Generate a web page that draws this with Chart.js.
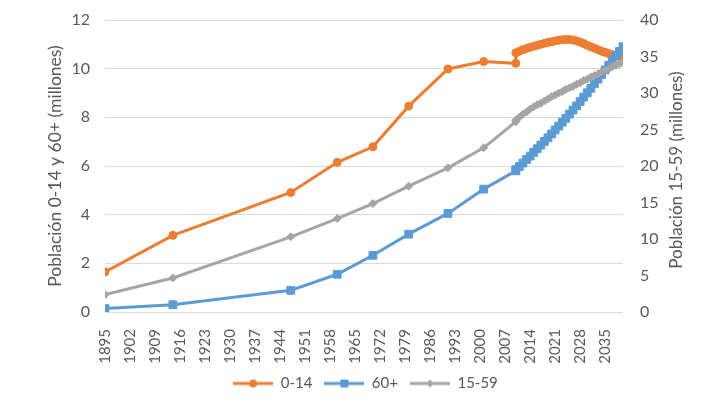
<!DOCTYPE html>
<html>
<head>
<meta charset="utf-8">
<script src="https://cdn.jsdelivr.net/npm/chart.js@4.4.1/dist/chart.umd.min.js"></script>
<style>
  html, body { margin: 0; padding: 0; background: #fff; }
</style>
</head>
<body>
<canvas id="myChart" width="728" height="405"></canvas>
<script>
// census years, then yearly projections 2010-2040
const censusYears = [1895, 1914, 1947, 1960, 1970, 1980, 1991, 2001, 2010];
const projYears = [2010, 2011, 2012, 2013, 2014, 2015, 2016, 2017, 2018, 2019, 2020,
  2021, 2022, 2023, 2024, 2025, 2026, 2027, 2028, 2029, 2030,
  2031, 2032, 2033, 2034, 2035, 2036, 2037, 2038, 2039, 2040];

// 0-14 (millones, eje izquierdo)
const kidsCensus = [1.65, 3.15, 4.91, 6.15, 6.79, 8.46, 9.99, 10.29, 10.22];
const kidsProj = [10.65, 10.72, 10.78, 10.83, 10.88, 10.92, 10.96, 11.00, 11.04, 11.08, 11.11,
  11.14, 11.17, 11.19, 11.20, 11.20, 11.18, 11.14, 11.09, 11.03, 10.96,
  10.90, 10.84, 10.78, 10.72, 10.67, 10.62, 10.58, 10.55, 10.53, 10.52];

// 60+ (millones, eje izquierdo)
const eldersCensus = [0.14, 0.30, 0.89, 1.55, 2.33, 3.20, 4.05, 5.05, 5.80];
const eldersProj = [5.85, 5.98, 6.12, 6.27, 6.41, 6.56, 6.71, 6.86, 7.01, 7.16, 7.32,
  7.48, 7.64, 7.80, 7.96, 8.13, 8.30, 8.47, 8.65, 8.83, 9.01,
  9.19, 9.38, 9.57, 9.76, 9.95, 10.14, 10.33, 10.52, 10.71, 10.90];

// 15-59 (millones, eje derecho)
const adultsCensus = [2.38, 4.66, 10.3, 12.8, 14.86, 17.23, 19.75, 22.49, 26.06];
const adultsProj = [26.3, 26.7, 27.1, 27.4, 27.8, 28.1, 28.4, 28.6, 28.9, 29.2, 29.5,
  29.7, 30.0, 30.2, 30.5, 30.7, 30.9, 31.2, 31.4, 31.7, 31.9,
  32.2, 32.4, 32.6, 32.9, 33.1, 33.3, 33.6, 33.8, 34.0, 34.2];

const tickYears = [1895, 1902, 1909, 1916, 1923, 1930, 1937, 1944, 1951, 1958, 1965,
  1972, 1979, 1986, 1993, 2000, 2007, 2014, 2021, 2028, 2035];

const ORANGE = '#ED7D31', BLUE = '#5B9BD5', GRAY = '#A5A5A5', TXT = '#595959';
const FONT = 'Lato, "Open Sans", sans-serif';

function series(cens, proj) {
  return censusYears.map((x, i) => ({x: x, y: cens[i]}))
    .concat(projYears.map((x, i) => ({x: x, y: proj[i]})));
}

// small line + marker icon for the legend
function legendIcon(color, shape) {
  const c = document.createElement('canvas');
  c.width = 40; c.height = 12;
  const g = c.getContext('2d');
  g.strokeStyle = color; g.lineWidth = 3;
  g.beginPath(); g.moveTo(0, 6); g.lineTo(40, 6); g.stroke();
  g.fillStyle = color;
  g.beginPath();
  if (shape === 'circle') g.arc(20, 6, 4, 0, Math.PI * 2);
  else if (shape === 'rect') g.rect(16, 2, 8, 8);
  else { g.moveTo(20, 2); g.lineTo(24, 6); g.lineTo(20, 10); g.lineTo(16, 6); g.closePath(); }
  g.fill();
  return c;
}
const icons = [legendIcon(ORANGE, 'circle'), legendIcon(BLUE, 'rect'), legendIcon(GRAY, 'diamond')];

// right axis title, reading bottom to top like the left one
const rightTitle = {
  id: 'rightTitle',
  afterDraw(chart) {
    const ctx = chart.ctx, a = chart.chartArea;
    ctx.save();
    ctx.translate(677, 170);
    ctx.rotate(-Math.PI / 2);
    ctx.font = '17px ' + FONT;
    ctx.fillStyle = TXT;
    ctx.textAlign = 'center';
    ctx.textBaseline = 'middle';
    ctx.fillText('Población 15-59 (millones)', 0, 0);
    ctx.restore();
  }
};

// keep the plot box where the reference has it
function noPad(s) {
  s.paddingTop = 0; s.paddingBottom = 0;
}

const ctx = document.getElementById('myChart').getContext('2d');
const myChart = new Chart(ctx, {
  type: 'line',
  data: {
    datasets: [{
      label: '0-14',
      data: series(kidsCensus, kidsProj),
      yAxisID: 'y',
      borderColor: ORANGE,
      backgroundColor: ORANGE,
      pointStyle: 'circle',
      pointRadius: 4,
      order: 3
    }, {
      label: '60+',
      data: series(eldersCensus, eldersProj),
      yAxisID: 'y',
      borderColor: BLUE,
      backgroundColor: BLUE,
      pointStyle: 'rect',
      pointRadius: 5.5,
      order: 2
    }, {
      label: '15-59',
      data: series(adultsCensus, adultsProj),
      yAxisID: 'y1',
      borderColor: GRAY,
      backgroundColor: GRAY,
      pointStyle: 'rectRot',
      pointRadius: 4,
      order: 1
    }]
  },
  options: {
    responsive: false,
    animation: false,
    layout: { padding: { left: 41, right: 38, top: 20, bottom: 4 } },
    elements: {
      line: { borderWidth: 3, tension: 0 },
      point: { borderWidth: 1, hoverRadius: 5 }
    },
    plugins: {
      tooltip: { enabled: false },
      legend: {
        position: 'bottom',
        labels: {
          usePointStyle: true,
          pointStyleWidth: 40,
          color: TXT,
          font: { family: FONT, size: 15 },
          padding: 12,
          sort: (a, b) => a.datasetIndex - b.datasetIndex,
          generateLabels(chart) {
            const items = Chart.defaults.plugins.legend.labels.generateLabels(chart);
            items.forEach(it => { it.pointStyle = icons[it.datasetIndex]; });
            return items;
          }
        }
      }
    },
    scales: {
      x: {
        type: 'linear',
        min: 1895,
        max: 2040,
        afterBuildTicks: s => { s.ticks = tickYears.map(v => ({value: v})); },
        afterFit: s => { s.height = 52; s.paddingLeft = 0; s.paddingRight = 0; },
        grid: { display: false },
        border: { display: false },
        ticks: {
          autoSkip: false,
          minRotation: 90,
          maxRotation: 90,
          padding: 9,
          color: TXT,
          font: { family: FONT, size: 15 },
          callback: v => String(v)
        }
      },
      y: {
        position: 'left',
        min: 0,
        max: 12,
        afterFit: s => { s.width = 64; noPad(s); },
        grid: { color: '#D9D9D9', drawTicks: false },
        border: { display: false },
        ticks: { stepSize: 2, padding: 15, color: TXT, font: { family: FONT, size: 16 } },
        title: {
          display: true,
          text: 'Población 0-14 y 60+ (millones)',
          color: TXT,
          font: { family: FONT, size: 17.5 }
        }
      },
      y1: {
        position: 'right',
        min: 0,
        max: 40,
        afterFit: s => { s.width = 67; noPad(s); },
        grid: { drawOnChartArea: false, drawTicks: false },
        border: { display: false },
        ticks: { stepSize: 5, padding: 17, color: TXT, font: { family: FONT, size: 16 } }
      }
    }
  },
  plugins: [rightTitle]
});
</script>
</body>
</html>
